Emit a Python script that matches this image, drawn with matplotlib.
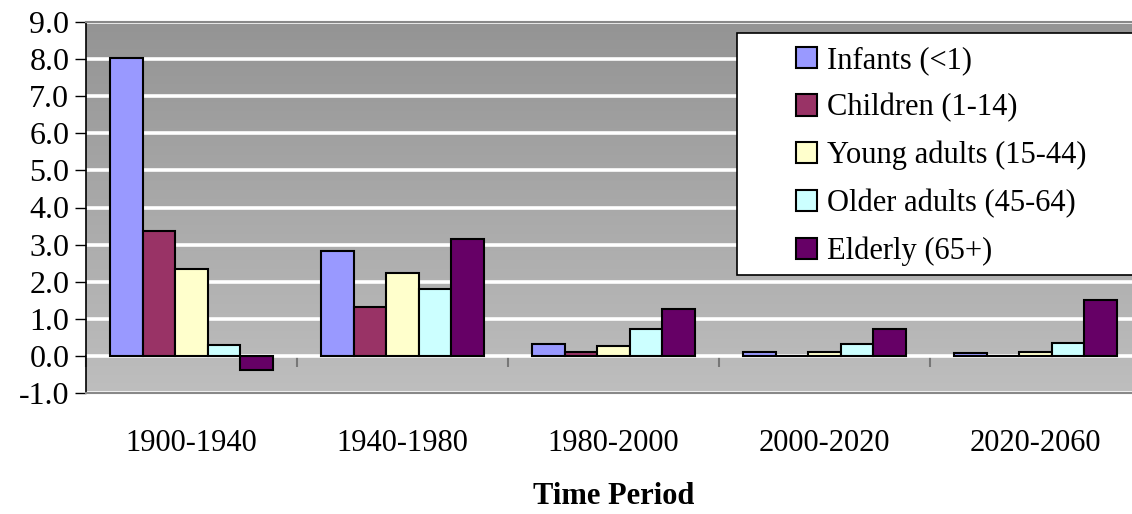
import numpy as np
import matplotlib
matplotlib.use("Agg")
import matplotlib.pyplot as plt
from matplotlib.patches import Rectangle

periods = ["1900-1940", "1940-1980", "1980-2000", "2000-2020", "2020-2060"]
series_names = ["Infants (<1)", "Children (1-14)", "Young adults (15-44)",
                "Older adults (45-64)", "Elderly (65+)"]
infants = [8.03, 2.83, 0.33, 0.11, 0.07]
children = [3.37, 1.32, 0.11, 0.0, 0.0]
young_adults = [2.34, 2.24, 0.28, 0.11, 0.11]
older_adults = [0.30, 1.80, 0.72, 0.33, 0.35]
elderly = [-0.38, 3.15, 1.27, 0.72, 1.50]
series = [infants, children, young_adults, older_adults, elderly]
colors = ["#9999FF", "#993366", "#FFFFCC", "#CCFFFF", "#660066"]
yticks = [-1.0, 0.0, 1.0, 2.0, 3.0, 4.0, 5.0, 6.0, 7.0, 8.0, 9.0]

plt.rcParams['font.family'] = ['Liberation Serif', 'DejaVu Serif']

W, H = 1132, 514
fig = plt.figure(figsize=(W / 100, H / 100), dpi=100)
ax = fig.add_axes([86 / W, (H - 393) / H, 1055 / W, 371 / H])

ymin, ymax = -1.0, 9.0
xmin, xmax = -0.5, len(periods) - 0.5

# gradient background (top darker, bottom lighter)
g = np.linspace(148, 190, 256) / 255.0
img = np.dstack([g, g, g]).reshape(256, 1, 3)
ax.imshow(img, extent=[xmin, xmax, ymin, ymax], aspect='auto',
          origin='upper', zorder=0, interpolation='bilinear')

ax.set_xlim(xmin, xmax)
ax.set_ylim(ymin, ymax)

x = np.arange(len(periods))
w = 0.1536
for i, (vals, c, name) in enumerate(zip(series, colors, series_names)):
    ax.bar(x + (i - 2) * w, vals, width=w, color=c, edgecolor='black',
           linewidth=1.5, label=name, zorder=3)

ax.set_yticks(yticks)
ax.set_yticklabels([f"{v:.1f}" for v in yticks], fontsize=23)
ax.yaxis.grid(True, color='white', linewidth=2.6, zorder=1)
ax.set_axisbelow(True)
ax.tick_params(axis='y', direction='out', length=8, width=1, color='black', pad=4)

ax.set_xticks(x)
ax.set_xticklabels(periods, fontsize=22)
ax.tick_params(axis='x', length=0, pad=26)
ax.set_xlabel("Time Period", fontsize=22, fontweight='bold')
ax.xaxis.set_label_coords(0.5, -0.24)

for s in ['top', 'right', 'bottom']:
    ax.spines[s].set_color('#888888')
    ax.spines[s].set_linewidth(1.5)
ax.spines['left'].set_color('black')
ax.spines['left'].set_linewidth(1.2)

# zero-line category axis with boundary ticks
sec = ax.secondary_xaxis((0 - ymin) / (ymax - ymin))
sec.set_xticks(np.arange(len(periods) + 1) - 0.5)
sec.set_xticklabels([])
sec.tick_params(direction='out', length=8, width=1.5, color='#777777')
sec.spines['bottom'].set_color('black')
sec.spines['bottom'].set_linewidth(1.2)

# legend frame
fig.patches.append(Rectangle((737 / W, 1 - 275 / H), 420 / W, 242 / H,
                             transform=fig.transFigure, facecolor='white',
                             edgecolor='black', linewidth=1.2, zorder=5))
leg = fig.legend(loc='upper left', bbox_to_anchor=(796 / W, 1 - 46 / H),
                 frameon=False, fontsize=22, handlelength=0.7, handleheight=0.7,
                 handletextpad=0.3, labelspacing=0.6, borderpad=0, borderaxespad=0)
leg.set_zorder(6)

fig.savefig("out.png", dpi=100)
